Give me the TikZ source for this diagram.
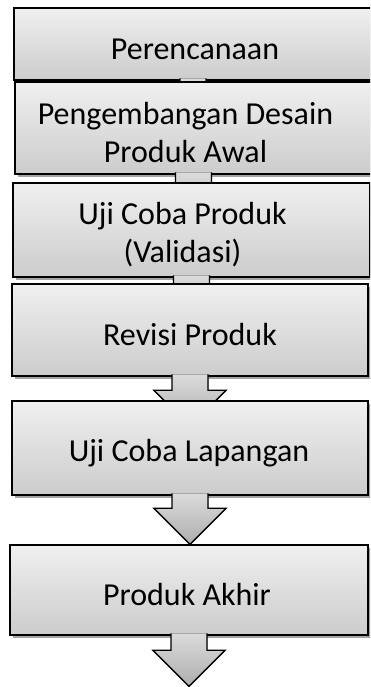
\documentclass[tikz,border=0pt]{standalone}
\usepackage{fontspec}
\setmainfont{Carlito}
\usetikzlibrary{shadows}

\tikzset{
  stepbox/.style={rectangle, draw=black, line width=1.6pt, top color=black!6, bottom color=black!20,
    drop shadow={shadow xshift=3pt, shadow yshift=-3pt, fill=black!45, opacity=0.8}},
  steptext/.style={font=\fontsize{32}{38}\selectfont, align=center, inner sep=0pt},
  arrowfill/.style={top color=black!14, bottom color=black!32},
  arrowline/.style={draw=black, line width=1.4pt}
}

\begin{document}
\begin{tikzpicture}[x=1pt,y=1pt]
	\clip (0,0) rectangle (370,687);

	\node[stepbox, minimum width=358pt, minimum height=72pt] (plan) at (193,643) {};
	\node[steptext] (plantext) at ([shift={(2,-5)}]plan.center) {Perencanaan};
	\fill[arrowfill] ([shift={(-13,2.5)}]plan.south) -- ++(0,-15) -- ++(-18,0) -- ++(31,-36) -- ++(31,36) -- ++(-18,0) -- ++(0,15) -- cycle;
	\draw[arrowline] ([shift={(-13,2.5)}]plan.south) -- ++(0,-15) -- ++(-18,0) -- ++(31,-36) -- ++(31,36) -- ++(-18,0) -- ++(0,15);

	\node[stepbox, minimum width=357pt, minimum height=92pt] (desain) at (193.5,559) {};
	\node[steptext] (desaintext) at ([shift={(-8,-5)}]desain.center) {Pengembangan Desain\\Produk Awal};
	\fill[arrowfill] ([shift={(-18,2.5)}]desain.south) -- ++(0,-15) -- ++(-18,0) -- ++(36,-36) -- ++(36,36) -- ++(-18,0) -- ++(0,15) -- cycle;
	\draw[arrowline] ([shift={(-18,2.5)}]desain.south) -- ++(0,-15) -- ++(-18,0) -- ++(36,-36) -- ++(36,36) -- ++(-18,0) -- ++(0,15);

	\node[stepbox, minimum width=357pt, minimum height=94pt] (validasi) at (191.5,457) {};
	\node[steptext] (validasitext) at ([shift={(-9,-5)}]validasi.center) {Uji Coba Produk\\(Validasi)};
	\fill[arrowfill] ([shift={(-18,2.5)}]validasi.south) -- ++(0,-15) -- ++(-18,0) -- ++(36,-36) -- ++(36,36) -- ++(-18,0) -- ++(0,15) -- cycle;
	\draw[arrowline] ([shift={(-18,2.5)}]validasi.south) -- ++(0,-15) -- ++(-18,0) -- ++(36,-36) -- ++(36,36) -- ++(-18,0) -- ++(0,15);

	\node[stepbox, minimum width=356pt, minimum height=92pt] (revisi) at (190,357) {};
	\node[steptext] (revisitext) at ([shift={(0,-5)}]revisi.center) {Revisi Produk};
	\fill[arrowfill] ([shift={(-18,2.5)}]revisi.south) -- ++(0,-16) -- ++(-18,0) -- ++(36,-36) -- ++(36,36) -- ++(-18,0) -- ++(0,16) -- cycle;
	\draw[arrowline] ([shift={(-18,2.5)}]revisi.south) -- ++(0,-16) -- ++(-18,0) -- ++(36,-36) -- ++(36,36) -- ++(-18,0) -- ++(0,16);

	\node[stepbox, minimum width=356pt, minimum height=94pt] (lapangan) at (190,239) {};
	\node[steptext] (lapangantext) at ([shift={(-1,-5)}]lapangan.center) {Uji Coba Lapangan};
	\fill[arrowfill] ([shift={(-18,2.5)}]lapangan.south) -- ++(0,-15) -- ++(-18,0) -- ++(36,-36) -- ++(36,36) -- ++(-18,0) -- ++(0,15) -- cycle;
	\draw[arrowline] ([shift={(-18,2.5)}]lapangan.south) -- ++(0,-15) -- ++(-18,0) -- ++(36,-36) -- ++(36,36) -- ++(-18,0) -- ++(0,15);

	\node[stepbox, minimum width=358pt, minimum height=90pt] (akhir) at (189,97) {};
	\node[steptext] (akhirtext) at ([shift={(-2,-5)}]akhir.center) {Produk Akhir};
	\fill[arrowfill] ([shift={(-18,2.5)}]akhir.south) -- ++(0,-17) -- ++(-18,0) -- ++(36,-36) -- ++(36,36) -- ++(-18,0) -- ++(0,17) -- cycle;
	\draw[arrowline] ([shift={(-18,2.5)}]akhir.south) -- ++(0,-17) -- ++(-18,0) -- ++(36,-36) -- ++(36,36) -- ++(-18,0) -- ++(0,17);
\end{tikzpicture}
\end{document}
